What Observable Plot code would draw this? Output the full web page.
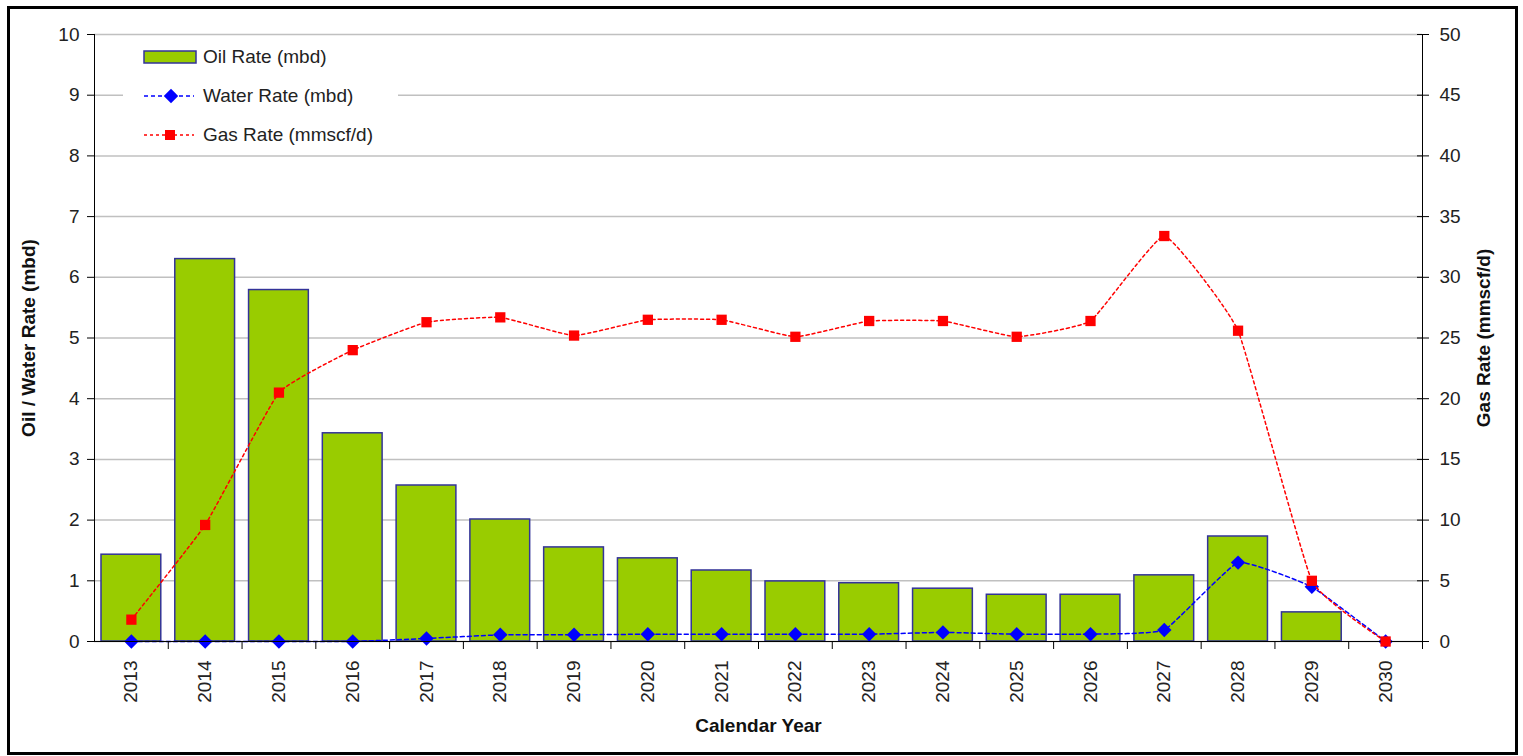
<!DOCTYPE html>
<html>
<head>
<meta charset="utf-8">
<script src="https://cdn.jsdelivr.net/npm/d3@7"></script>
<script src="https://cdn.jsdelivr.net/npm/@observablehq/plot@0.6"></script>
<style>
  html, body { margin: 0; padding: 0; background: #fff; }
  #chart { position: relative; width: 1523px; height: 756px; font-family: "Liberation Sans", Arial, sans-serif; }
  #chart > svg { position: absolute; left: 0; top: 0; overflow: visible; }
  #frame { position: absolute; left: 7px; top: 6px; width: 1505px; height: 743px; border: 3px solid #000; box-sizing: content-box; pointer-events: none; }
  #legend { position: absolute; left: 123px; top: 40px; width: 275px; height: 112px; background: #fff; }
  #legend .row { position: absolute; left: 0; height: 24px; display: flex; align-items: center; font-size: 19px; color: #222; white-space: nowrap; }
  #legend .row svg { display: block; margin-left: 19px; margin-right: 6px; }
</style>
</head>
<body>
<div id="chart">
  <div id="frame"></div>
</div>
<script>
// Production profile by calendar year
const years = ["2013","2014","2015","2016","2017","2018","2019","2020","2021","2022","2023","2024","2025","2026","2027","2028","2029","2030"];
const oilRate   = [1.43, 6.30, 5.79, 3.43, 2.57, 2.01, 1.55, 1.37, 1.17, 0.99, 0.96, 0.87, 0.77, 0.77, 1.09, 1.73, 0.48, 0];
const waterRate = [0, 0, 0, 0, 0.05, 0.11, 0.11, 0.12, 0.12, 0.12, 0.12, 0.15, 0.12, 0.12, 0.19, 1.30, 0.90, 0];
const gasRate   = [1.8, 9.6, 20.5, 24.0, 26.3, 26.7, 25.2, 26.5, 26.5, 25.1, 26.4, 26.4, 25.1, 26.4, 33.4, 25.6, 5.0, 0];

const leftTicks  = d3.range(0, 11, 1);
const rightTicks = d3.range(0, 55, 5);

const rows = years.map((year, i) => ({year, oil: oilRate[i], water: waterRate[i], gas: gasRate[i]}));

const W = 1523, H = 756;
const M = {top: 34, right: 101, bottom: 115, left: 94};
const step = (W - M.left - M.right) / years.length;

const font = "Liberation Sans, Arial, sans-serif";
const textColor = "#222";
const oilFill = "#99CC00", oilStroke = "#333399";
const waterColor = "#0000FF", gasColor = "#FF0000";
const smooth = d3.curveCardinal.tension(0.65);

// Left (oil / water) layer: grid, bars, water line, left and bottom axes
const base = Plot.plot({
  width: W, height: H,
  marginTop: M.top, marginRight: M.right, marginBottom: M.bottom, marginLeft: M.left,
  style: {fontFamily: font, fontSize: "19px", color: textColor, background: "transparent"},
  x: {type: "band", domain: years, padding: 0, round: false},
  y: {domain: [0, 10]},
  marks: [
    Plot.gridY(leftTicks, {stroke: "#c0c0c0", strokeOpacity: 1, strokeWidth: 1.5}),
    Plot.barY(rows, {x: "year", y: "oil", fill: oilFill, stroke: oilStroke, strokeWidth: 1.5, insetLeft: 7, insetRight: 7}),
    Plot.line(rows, {x: "year", y: "water", stroke: waterColor, strokeWidth: 1.5, strokeDasharray: "4,3", curve: smooth}),
    Plot.dot(rows, {x: "year", y: "water", symbol: "diamond2", r: 6.5, fill: waterColor, stroke: "none"}),
    Plot.axisY(leftTicks, {tickSize: 7, tickPadding: 8, tickFormat: d3.format("d"), label: null, fill: textColor, stroke: "#000"}),
    Plot.axisX({tickSize: 0, tickPadding: 19, tickRotate: -90, label: null, fill: textColor}),
    Plot.axisX({tickSize: 8, text: null, label: null, dx: step / 2, stroke: "#000"}),
    Plot.frame({anchor: "left", stroke: "#000"}),
    Plot.frame({anchor: "bottom", stroke: "#000"}),
    Plot.text(["Oil / Water Rate (mbd)"], {frameAnchor: "left", rotate: -90, dx: -66, textAnchor: "middle", lineAnchor: "middle", fontWeight: "bold", fill: "#111", fontSize: 19}),
    Plot.text(["Calendar Year"], {frameAnchor: "bottom", dy: 84, textAnchor: "middle", lineAnchor: "middle", fontWeight: "bold", fill: "#111", fontSize: 19})
  ]
});

// Right (gas) layer on its own 0–50 scale
const gas = Plot.plot({
  width: W, height: H,
  marginTop: M.top, marginRight: M.right, marginBottom: M.bottom, marginLeft: M.left,
  style: {fontFamily: font, fontSize: "19px", color: textColor, background: "transparent"},
  x: {type: "band", domain: years, padding: 0, round: false, axis: null},
  y: {domain: [0, 50], axis: null},
  marks: [
    Plot.line(rows, {x: "year", y: "gas", stroke: gasColor, strokeWidth: 1.5, strokeDasharray: "3,3", curve: smooth}),
    Plot.dot(rows, {x: "year", y: "gas", symbol: "square", r: 5.8, fill: gasColor, stroke: "none"}),
    Plot.axisY(rightTicks, {anchor: "right", tickSize: 6, tickPadding: 11, label: null, fill: textColor, stroke: "#000"}),
    Plot.axisY(rightTicks, {anchor: "right", tickSize: -6, text: null, label: null, stroke: "#000"}),
    Plot.frame({anchor: "right", stroke: "#000"}),
    Plot.text(["Gas Rate (mmscf/d)"], {frameAnchor: "right", rotate: -90, dx: 61, textAnchor: "middle", lineAnchor: "middle", fontWeight: "bold", fill: "#111", fontSize: 19})
  ]
});

const chart = document.getElementById("chart");
chart.insertBefore(base, chart.firstChild);
chart.appendChild(gas);

// Legend
const legend = document.createElement("div");
legend.id = "legend";
const entries = [
  {label: "Oil Rate (mbd)", kind: "bar"},
  {label: "Water Rate (mbd)", kind: "water"},
  {label: "Gas Rate (mmscf/d)", kind: "gas"}
];
entries.forEach((e, i) => {
  const row = document.createElement("div");
  row.className = "row";
  row.style.top = (5 + i * 39) + "px";
  const sw = d3.create("svg").attr("width", 55).attr("height", 20);
  if (e.kind === "bar") {
    sw.append("rect").attr("x", 2).attr("y", 4).attr("width", 52).attr("height", 12)
      .attr("fill", oilFill).attr("stroke", oilStroke).attr("stroke-width", 1.5);
  } else {
    const c = e.kind === "water" ? waterColor : gasColor;
    sw.append("line").attr("x1", 2).attr("x2", 52).attr("y1", 10).attr("y2", 10)
      .attr("stroke", c).attr("stroke-width", 1.5).attr("stroke-dasharray", e.kind === "water" ? "4,3" : "3,3");
    if (e.kind === "water") {
      sw.append("path").attr("d", d3.symbol(d3.symbolDiamond2, Math.PI * 6.5 * 6.5)()).attr("transform", "translate(29,10)").attr("fill", c);
    } else {
      sw.append("rect").attr("x", 23).attr("y", 5).attr("width", 10).attr("height", 10).attr("fill", c);
    }
  }
  row.appendChild(sw.node());
  const t = document.createElement("span");
  t.textContent = e.label;
  row.appendChild(t);
  legend.appendChild(row);
});
chart.appendChild(legend);
</script>
</body>
</html>
